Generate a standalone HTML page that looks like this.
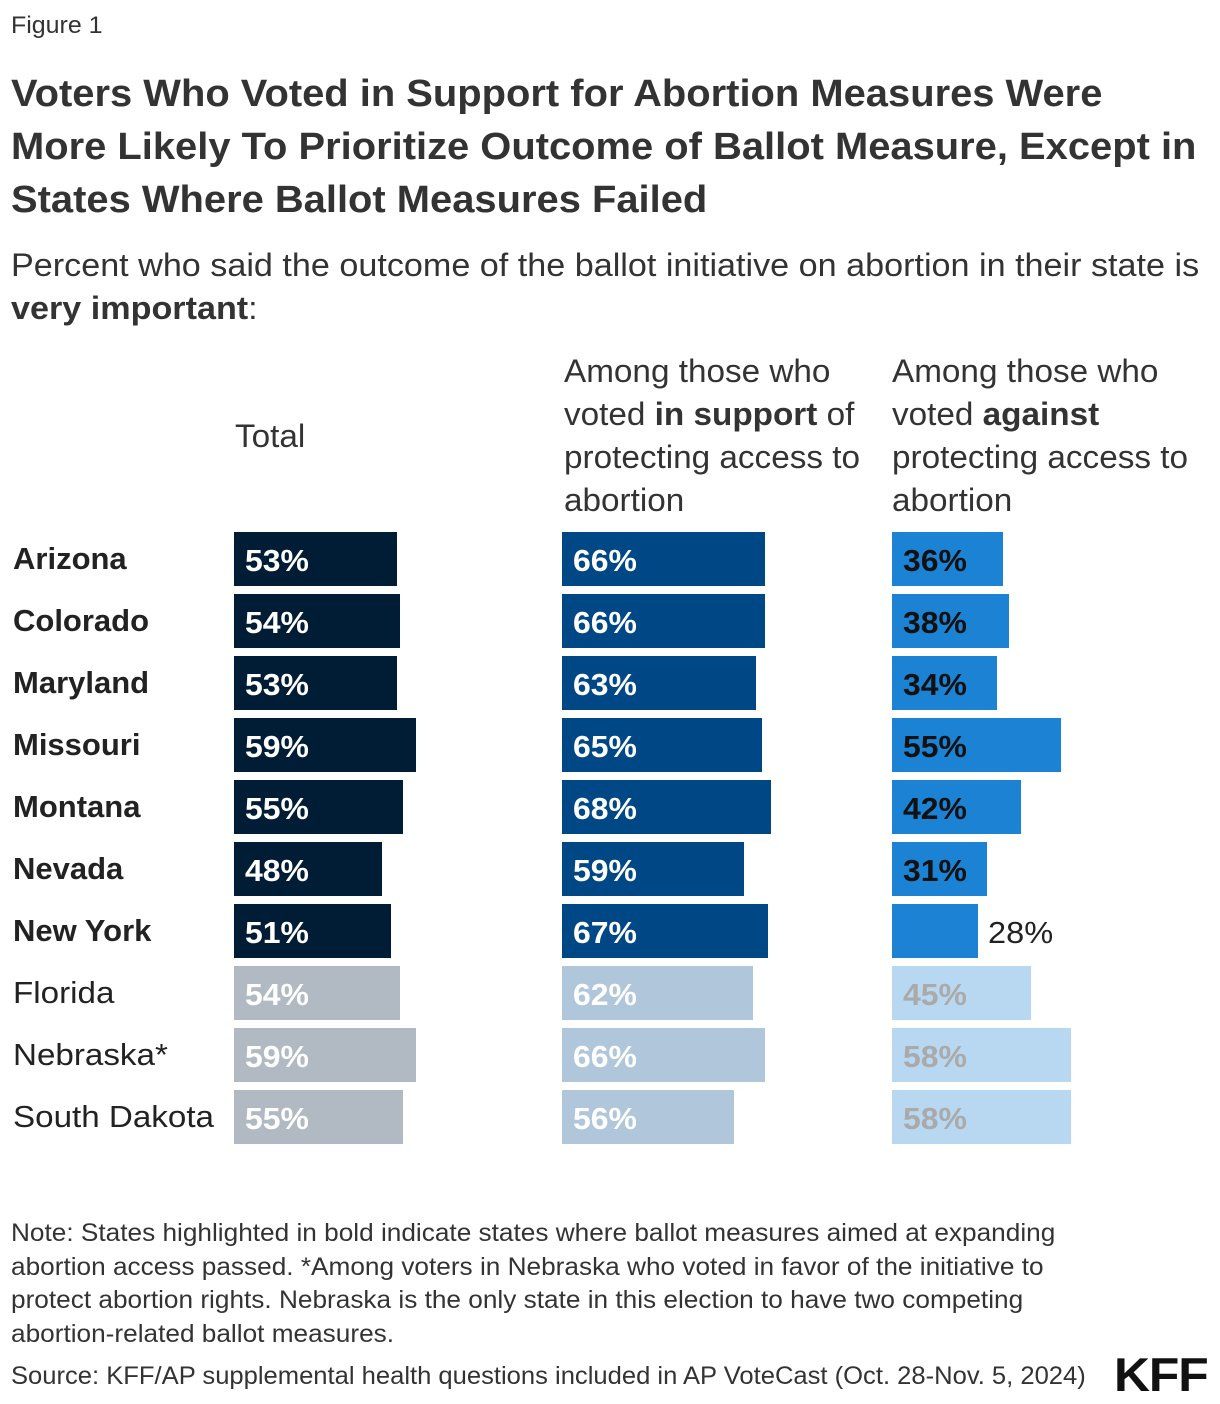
<!DOCTYPE html>
<html><head><meta charset="utf-8"><style>
body{margin:0;width:1220px;height:1404px;background:#fff;position:relative;overflow:hidden;font-family:"Liberation Sans",sans-serif;color:#333}
.t{position:absolute;white-space:nowrap;transform-origin:0 0}
.bar{position:absolute;height:54px}
.bar span{position:absolute;left:11px;top:12px;font-size:31px;font-weight:bold;transform:scaleX(1.03);transform-origin:0 0;line-height:34px}
.lab{position:absolute;left:13px;font-size:31px;line-height:34px;transform-origin:0 0;white-space:nowrap;color:#222}
</style></head><body>
<div class="t" style="left:11px;top:12px;font-size:24px;transform:scaleX(1.04)">Figure 1</div>
<div class="t" style="left:11px;top:68px;font-size:38px;line-height:53px;font-weight:bold;transform:scaleX(1.05)">Voters Who Voted in Support for Abortion Measures Were<br>More Likely To Prioritize Outcome of Ballot Measure, Except in<br>States Where Ballot Measures Failed</div>
<div class="t" style="left:11px;top:244px;font-size:32px;line-height:43px;transform:scaleX(1.067)">Percent who said the outcome of the ballot initiative on abortion in their state is<br><b>very important</b>:</div>
<div class="t" style="left:235px;top:418px;font-size:32px;transform:scaleX(1.04)">Total</div>
<div class="t" style="left:564px;top:350px;font-size:32px;line-height:43px;transform:scaleX(1.04)">Among those who<br>voted <b>in support</b> of<br>protecting access to<br>abortion</div>
<div class="t" style="left:892px;top:350px;font-size:32px;line-height:43px;transform:scaleX(1.04)">Among those who<br>voted <b>against</b><br>protecting access to<br>abortion</div>
<div id="c"></div>
<div class="t" style="left:11px;top:1217px;font-size:25px;line-height:33.5px;transform:scaleX(1.048)">Note: States highlighted in bold indicate states where ballot measures aimed at expanding<br>abortion access passed. *Among voters in Nebraska who voted in favor of the initiative to<br>protect abortion rights. Nebraska is the only state in this election to have two competing<br>abortion-related ballot measures.</div>
<div class="t" style="left:11px;top:1362px;font-size:25px;transform:scaleX(1.023)">Source: KFF/AP supplemental health questions included in AP VoteCast (Oct. 28-Nov. 5, 2024)</div>
<div class="t" style="left:1114px;top:1347px;font-size:47px;font-weight:900;color:#111;letter-spacing:-1px;transform:scaleX(1.06)">KFF</div>
<script>
var d=[["Arizona",53,66,36,1],["Colorado",54,66,38,1],["Maryland",53,63,34,1],["Missouri",59,65,55,1],["Montana",55,68,42,1],["Nevada",48,59,31,1],["New York",51,67,28,1],["Florida",54,62,45,0],["Nebraska*",59,66,58,0],["South Dakota",55,56,58,0]];
var h="",k=3.08;
d.forEach(function(r,i){var y=532+62*i,b=r[4];
h+='<div class="lab" style="top:'+(y+10)+'px;'+(b?'font-weight:bold;transform:scaleX(1.0)':'transform:scaleX(1.07)')+'">'+r[0]+'</div>';
var cs=b?["#001d35","#004785","#1c82d4"]:["#b1b9c2","#b0c7db","#b8d8f2"];
var tc=b?["#fff","#fff","#111"]:["#fff","#fff","#aaa"];
[234,562,892].forEach(function(x,j){var v=r[j+1];
if(b&&j==2&&v<30){h+='<div class="bar" style="left:'+x+'px;top:'+y+'px;width:'+Math.round(v*k)+'px;background:'+cs[j]+'"></div><div class="t" style="left:'+(x+Math.round(v*k)+10)+'px;top:'+(y+12)+'px;font-size:31px;line-height:34px;transform:scaleX(1.05);color:#222">'+v+'%</div>';}
else h+='<div class="bar" style="left:'+x+'px;top:'+y+'px;width:'+Math.round(v*k)+'px;background:'+cs[j]+'"><span style="color:'+tc[j]+'">'+v+'%</span></div>';});});
document.getElementById("c").innerHTML=h;
</script>
</body></html>
